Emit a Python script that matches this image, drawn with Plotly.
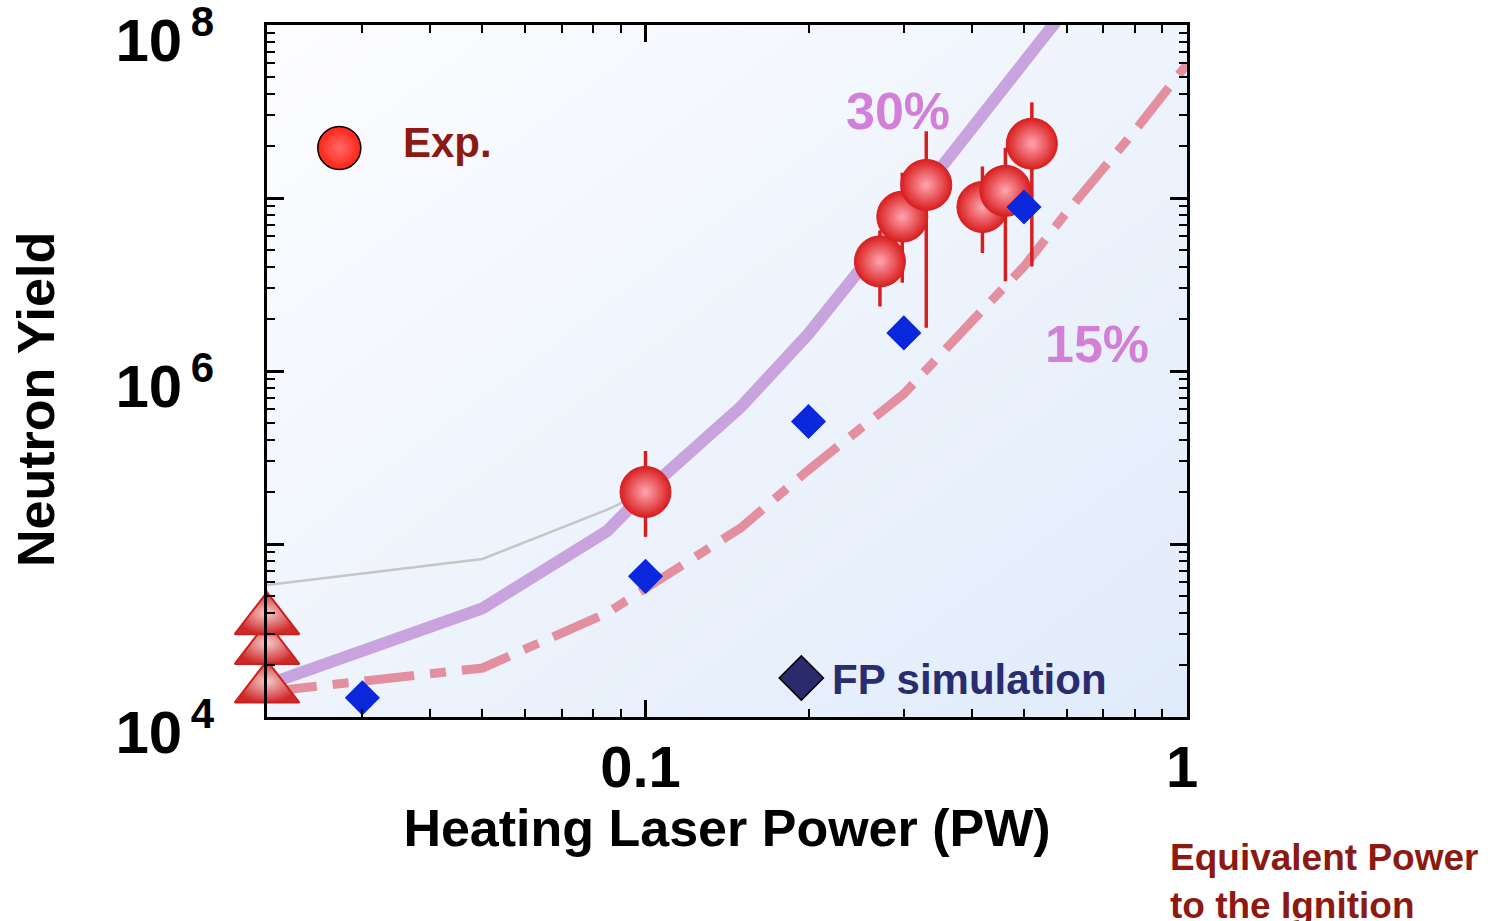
import base64
import math
import plotly.graph_objects as go

# ---- data -------------------------------------------------------------
# Experimental shots
exp_power = [0.10, 0.271, 0.298, 0.330, 0.419, 0.462, 0.517]
exp_yield = [2.0e5, 4.3e6, 7.8e6, 1.19e7, 8.87e6, 1.10e7, 2.06e7]
exp_yield_hi = [3.45e5, 6.5e6, 1.40e7, 2.43e7, 1.52e7, 1.95e7, 3.57e7]
exp_yield_lo = [1.10e5, 2.36e6, 3.24e6, 1.78e6, 4.81e6, 3.30e6, 4.02e6]

# Shots without heating beam (plotted on the left frame)
ref_power = [0.02, 0.02, 0.02]
ref_yield = [1.46e4, 2.44e4, 3.63e4]

# Fokker-Planck simulation
fp_power = [0.03, 0.10, 0.20, 0.30, 0.50]
fp_yield = [1.29e4, 6.5e4, 5.11e5, 1.66e6, 8.87e6]

# Coupling-efficiency curves
c30_power = [0.02, 0.05, 0.085, 0.10, 0.15, 0.20, 0.30, 0.40, 0.50, 0.60]
c30_yield = [1.54e4, 4.25e4, 1.19e5, 2.0e5, 6.2e5, 1.64e6, 8.0e6, 2.48e7, 5.9e7, 1.26e8]

c15_power = [0.02, 0.05, 0.085, 0.10, 0.15, 0.20, 0.30, 0.40, 0.50, 0.60, 0.80, 1.00]
c15_yield = [1.4e4, 1.92e4, 4.0e4, 5.5e4, 1.24e5, 2.68e5, 7.38e5, 1.93e6, 4.02e6, 8.3e6, 2.43e7, 5.93e7]

# Thin guide line
guide_power = [0.02, 0.05, 0.085, 0.10]
guide_yield = [5.8e4, 8.2e4, 1.58e5, 2.0e5]

x_tickvals = [0.1, 1]
x_ticktext = ["0.1", "1"]
y_tickvals = [1e4, 1e5, 1e6, 1e7, 1e8]
y_ticktext = ["10<sup>\u20094</sup>", "", "10<sup>\u20096</sup>", "", "10<sup>\u20098</sup>"]

# ---- styling ----------------------------------------------------------
FONT = "Liberation Sans, Arial, Helvetica, sans-serif"
W, H = 1488, 921
ML, MR, MT, MB = 267, 301, 25, 204

err_plus = [h - v for h, v in zip(exp_yield_hi, exp_yield)]
err_minus = [v - l for v, l in zip(exp_yield, exp_yield_lo)]

fig = go.Figure()

fig.add_trace(go.Scatter(
    x=guide_power, y=guide_yield, mode="lines",
    line=dict(color="#c6c6c6", width=2.5), hoverinfo="skip", showlegend=False))

fig.add_trace(go.Scatter(
    x=c30_power, y=c30_yield, mode="lines",
    line=dict(color="#c8a3dd", width=12), showlegend=False))

fig.add_trace(go.Scatter(
    x=c15_power, y=c15_yield, mode="lines",
    line=dict(color="#e38f9f", width=9, dash="50px,16px,16px,16px"),
    showlegend=False))

# radial gradient: gradient.color is the centre, marker.color the rim
fig.add_trace(go.Scatter(
    x=exp_power, y=exp_yield, mode="markers",
    marker=dict(symbol="circle", size=51, color="#d91d1d",
                gradient=dict(type="radial", color="#ffa6b0"),
                line=dict(color="#d42222", width=1)),
    error_y=dict(type="data", symmetric=False, array=err_plus,
                 arrayminus=err_minus, color="#d42020", thickness=3.5, width=0),
    showlegend=False))

fig.add_trace(go.Scatter(
    x=fp_power, y=fp_yield, mode="markers",
    marker=dict(symbol="diamond", size=27, color="#0a27dc", line=dict(width=0)),
    showlegend=False))

fig.add_trace(go.Scatter(
    x=ref_power, y=ref_yield, mode="markers", cliponaxis=False,
    marker=dict(symbol="triangle-up", size=56, color="#cf2a2a",
                gradient=dict(type="radial", color="#f6caca"),
                line=dict(color="#cc2020", width=2)),
    showlegend=False))

# legend keys, placed on an overlay axis spanning the plot area (0..1)
fig.add_trace(go.Scatter(
    x=[0.0786], y=[0.8223], xaxis="x2", yaxis="y2", mode="markers",
    cliponaxis=False,
    marker=dict(symbol="circle", size=43, color="#ff2414",
                gradient=dict(type="radial", color="#ff6a6a"),
                line=dict(color="black", width=1.5)),
    showlegend=False))
fig.add_trace(go.Scatter(
    x=[0.5808], y=[0.0564], xaxis="x2", yaxis="y2", mode="markers",
    cliponaxis=False,
    marker=dict(symbol="diamond", size=34, color="#292b6d",
                line=dict(color="black", width=1.5)),
    showlegend=False))

# plot-area background: soft diagonal gradient
svg = ('<svg xmlns="http://www.w3.org/2000/svg" width="200" height="200" '
       'preserveAspectRatio="none"><defs><linearGradient id="g" x1="0" y1="0" '
       'x2="1" y2="1"><stop offset="0" stop-color="#fdfdff"/>'
       '<stop offset="1" stop-color="#e0ebfa"/></linearGradient></defs>'
       '<rect width="200" height="200" fill="url(#g)"/></svg>')
bg_src = "data:image/svg+xml;base64," + base64.b64encode(svg.encode()).decode()

axis_common = dict(
    type="log", showline=True, linecolor="black", linewidth=3,
    mirror="allticks", ticks="inside", ticklen=17, tickwidth=2.5,
    tickcolor="black", showgrid=False, zeroline=False,
    ticklabeloverflow="allow", automargin=False,
    minor=dict(ticks="inside", ticklen=8, tickwidth=2, tickcolor="black",
               dtick="D1", showgrid=False),
)

x_lo = math.log10(min(ref_power)) - 1e-6

fig.update_layout(
    width=W, height=H,
    margin=dict(l=ML, r=MR, t=MT, b=MB, pad=0, autoexpand=False),
    paper_bgcolor="white", plot_bgcolor="rgba(0,0,0,0)",
    font=dict(family=FONT, color="black"),
    xaxis=dict(
        **axis_common,
        range=[x_lo, 0],
        tickvals=x_tickvals, ticktext=x_ticktext,
        tickfont=dict(family=FONT, size=58, weight="bold", color="black"),
        ticklabelstandoff=-3, ticklabelshift=-5,
        title=dict(text="Heating Laser Power (PW)", standoff=8,
                   font=dict(family=FONT, size=52, weight="bold", color="black")),
    ),
    yaxis=dict(
        **axis_common,
        range=[4, 8],
        tickvals=y_tickvals, ticktext=y_ticktext,
        tickfont=dict(family=FONT, size=60, weight="bold", color="black"),
        ticklabelstandoff=38, ticklabelshift=15,
    ),
    xaxis2=dict(overlaying="x", range=[0, 1], visible=False),
    yaxis2=dict(overlaying="y", range=[0, 1], visible=False),
    images=[dict(source=bg_src, xref="paper", yref="paper", x=0, y=1,
                 sizex=1, sizey=1, xanchor="left", yanchor="top",
                 sizing="stretch", layer="below")],
    annotations=[
        dict(text="Neutron Yield", textangle=-90, xref="paper", yref="paper",
             x=(36 - ML) / 920, y=(717 - 400) / 692, showarrow=False,
             xanchor="center", yanchor="middle",
             font=dict(family=FONT, size=52, weight="bold", color="black")),
        dict(text="30%", xref="paper", yref="paper", x=0.6862, y=0.8757,
             showarrow=False, xanchor="center", yanchor="middle",
             font=dict(family=FONT, size=52, weight="bold", color="#d17fd8")),
        dict(text="15%", xref="paper", yref="paper", x=0.902, y=0.539,
             showarrow=False, xanchor="center", yanchor="middle",
             font=dict(family=FONT, size=52, weight="bold", color="#d17fd8")),
        dict(text="Exp.", xref="paper", yref="paper", x=0.1455, y=0.8295,
             showarrow=False, xanchor="left", yanchor="middle",
             font=dict(family=FONT, size=42, weight="bold", color="#8c1a12")),
        dict(text="FP simulation", xref="paper", yref="paper", x=0.6123, y=0.0535,
             showarrow=False, xanchor="left", yanchor="middle",
             font=dict(family=FONT, size=42, weight="bold", color="#2a2c70")),
        dict(text="Equivalent Power<br>to the Ignition", xref="paper", yref="paper",
             x=0.9797, y=-0.1705, showarrow=False, xanchor="left", yanchor="top",
             align="left",
             font=dict(family=FONT, size=37, weight="bold", color="#8c1a12")),
    ],
)

fig.write_html("out.html")
